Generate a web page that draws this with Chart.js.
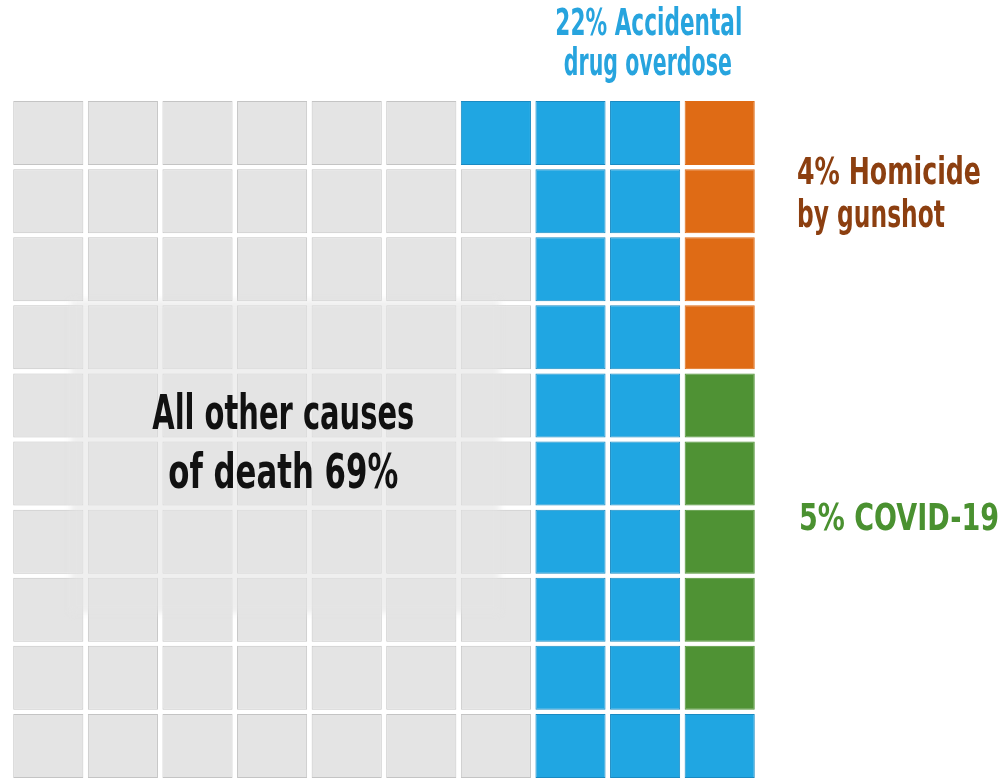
<!DOCTYPE html>
<html>
<head>
<meta charset="utf-8">
<script src="https://cdn.jsdelivr.net/npm/chart.js@4/dist/chart.umd.min.js"></script>
<style>
  html, body { margin: 0; padding: 0; background: #fff; overflow: hidden; }
  #wrap { width: 1002px; height: 782px; }
</style>
</head>
<body>
<div id="wrap"><canvas id="waffle"></canvas></div>
<script>
// causes of death, share of 100 cells
var categories = ["All other causes of death", "Accidental drug overdose", "Homicide by gunshot", "COVID-19"]
var percents = [69, 22, 4, 5]
var columns = ["1", "2", "3", "4", "5", "6", "7", "8", "9", "10"]

// which cause each cell belongs to, top row first (index into categories)
var cellRows = [
  [0, 0, 0, 0, 0, 0, 1, 1, 1, 2],
  [0, 0, 0, 0, 0, 0, 0, 1, 1, 2],
  [0, 0, 0, 0, 0, 0, 0, 1, 1, 2],
  [0, 0, 0, 0, 0, 0, 0, 1, 1, 2],
  [0, 0, 0, 0, 0, 0, 0, 1, 1, 3],
  [0, 0, 0, 0, 0, 0, 0, 1, 1, 3],
  [0, 0, 0, 0, 0, 0, 0, 1, 1, 3],
  [0, 0, 0, 0, 0, 0, 0, 1, 1, 3],
  [0, 0, 0, 0, 0, 0, 0, 1, 1, 3],
  [0, 0, 0, 0, 0, 0, 0, 1, 1, 1]
]

var fills = ['#e4e4e4', '#20a6e2', '#df6b15', '#4f9234']
var edges = ['#c4c4c4', '#1a8ac2', '#df6b15', '#4f9234']
var textColors = ['#111111', '#27a4de', '#8c3f10', '#4a9130']
var FONT = "'Liberation Sans Narrow', 'DejaVu Sans Condensed', 'Liberation Sans', sans-serif"

var pad = 0.03  // half of the white gap between rows, in row units

var datasets = cellRows.map(function(row, r){
  return {
    label: 'row ' + (r + 1),
    data: row.map(function(){ return [r + pad, r + 1 - pad] }),
    backgroundColor: row.map(function(k){ return fills[k] }),
    borderColor: row.map(function(k){ return edges[k] }),
    borderWidth: 1,
    borderSkipped: false,
    barPercentage: 0.94,
    categoryPercentage: 1,
    grouped: false
  }
})

function fitText(ctx, text, x, baseline, size, width, align, color){
  ctx.save()
  ctx.font = 'bold ' + size + 'px ' + FONT
  var w = ctx.measureText(text).width
  ctx.translate(x, baseline)
  ctx.scale(width / w, 1)
  ctx.textAlign = align
  ctx.textBaseline = 'alphabetic'
  ctx.fillStyle = color
  ctx.fillText(text, 0, 0)
  ctx.restore()
}

var labelsPlugin = {
  id: 'waffleLabels',
  afterDatasetsDraw: function(chart){
    var ctx = chart.ctx
    var a = chart.chartArea
    var y = chart.scales.y
    var w = a.right - a.left

    // soft panel behind the big label
    ctx.save()
    ctx.filter = 'blur(3px)'
    ctx.fillStyle = 'rgba(229,229,229,0.6)'
    var top = y.getPixelForValue(2.95), bottom = y.getPixelForValue(7.55)
    ctx.fillRect(a.left + 0.08 * w, top, 0.575 * w, bottom - top)
    ctx.restore()

    var cx = a.left + 0.365 * w
    fitText(ctx, 'All other causes', cx, 429, 48, 262, 'center', textColors[0])
    fitText(ctx, 'of death ' + percents[0] + '%', cx, 488, 48, 230, 'center', textColors[0])

    var dx = a.left + 0.855 * w
    fitText(ctx, percents[1] + '% Accidental', dx, 35, 37, 187, 'center', textColors[1])
    fitText(ctx, 'drug overdose', dx - 1, 75, 37, 168, 'center', textColors[1])

    var rx = a.right + 40
    fitText(ctx, percents[2] + '% Homicide', rx, 184, 37, 184, 'left', textColors[2])
    fitText(ctx, 'by gunshot', rx, 227, 37, 148, 'left', textColors[2])
    fitText(ctx, percents[3] + '% COVID-19', rx + 2, 530, 37, 200, 'left', textColors[3])
  }
}

var ctx = document.getElementById('waffle').getContext('2d')
var myChart = new Chart(ctx, {
  type: 'bar',
  plugins: [labelsPlugin],
  data: {
    labels: columns,
    datasets: datasets
  },
  options: {
    responsive: true,
    maintainAspectRatio: false,
    animation: false,
    layout: {
      padding: { left: 11, right: 245, top: 99, bottom: 2 }
    },
    plugins: {
      legend: { display: false },
      tooltip: { enabled: false }
    },
    scales: {
      x: { display: false, offset: true },
      y: { display: false, min: 0, max: 10, reverse: true }
    }
  }
})
</script>
</body>
</html>
